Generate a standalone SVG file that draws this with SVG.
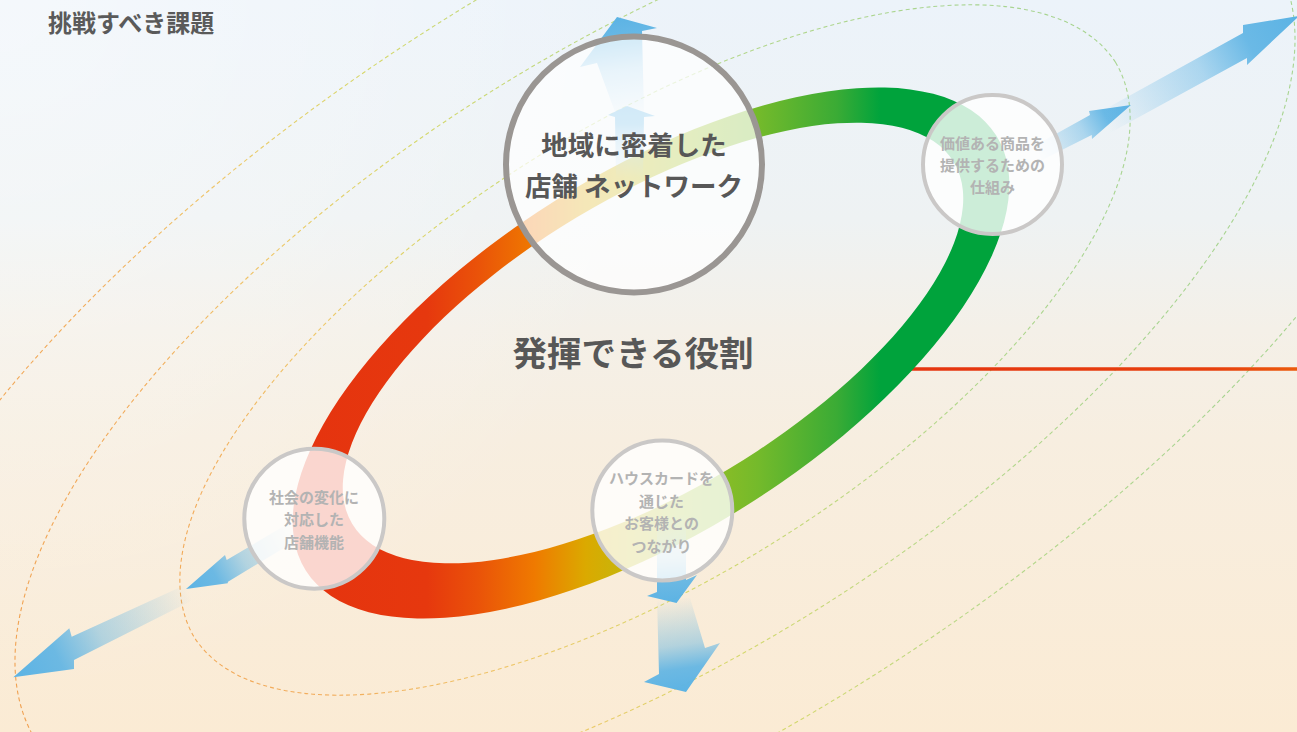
<svg xmlns="http://www.w3.org/2000/svg" width="1297" height="732" viewBox="0 0 1297 732">
<style>
.dl{fill:none;stroke:url(#dash);stroke-width:1.1;stroke-dasharray:4 3}
.cs{fill:#fff;fill-opacity:.8;stroke:#cac8c7;stroke-width:4}
.cb{fill:#fff;fill-opacity:.72;stroke:#9a9693;stroke-width:6}
.t{font-family:"Noto Sans CJK JP","Noto Sans CJK SC",sans-serif;font-weight:700;text-anchor:middle}
.ts{font-size:15px;fill:#b3b3b3}
.tm{fill:#575757}
</style>
<defs>
<linearGradient id="bg" x1="0" y1="0" x2="0" y2="1">
<stop offset="0" stop-color="#ecf3fa"/>
<stop offset="0.3" stop-color="#eef2f3"/>
<stop offset="0.45" stop-color="#f4f0e8"/>
<stop offset="0.6" stop-color="#f7eee0"/>
<stop offset="1" stop-color="#fbebd4"/>
</linearGradient>
<radialGradient id="bgl" cx="0" cy="0" r="700" gradientUnits="userSpaceOnUse">
<stop offset="0" stop-color="#fff" stop-opacity="0.45"/>
<stop offset="1" stop-color="#fff" stop-opacity="0"/>
</radialGradient>
<linearGradient id="dash" gradientUnits="userSpaceOnUse" x1="0" y1="700" x2="1000" y2="100">
<stop offset="0" stop-color="#f0a050"/>
<stop offset="0.25" stop-color="#f2ad5c"/>
<stop offset="0.4" stop-color="#eec86a"/>
<stop offset="0.55" stop-color="#d6d86a"/>
<stop offset="0.75" stop-color="#b8d888"/>
<stop offset="1" stop-color="#a8d490"/>
</linearGradient>
<linearGradient id="ring" gradientUnits="userSpaceOnUse" x1="290" y1="0" x2="1010" y2="0">
<stop offset="0" stop-color="#e5330f"/>
<stop offset="0.19" stop-color="#e6380e"/>
<stop offset="0.26" stop-color="#ea5209"/>
<stop offset="0.34" stop-color="#ef7a00"/>
<stop offset="0.41" stop-color="#dba900"/>
<stop offset="0.47" stop-color="#c4b70c"/>
<stop offset="0.55" stop-color="#9cbf22"/>
<stop offset="0.65" stop-color="#74ba2b"/>
<stop offset="0.76" stop-color="#3aab35"/>
<stop offset="0.82" stop-color="#00a33c"/>
<stop offset="1" stop-color="#00a33c"/>
</linearGradient>
<linearGradient id="redline" gradientUnits="userSpaceOnUse" x1="880" y1="0" x2="1297" y2="0">
<stop offset="0" stop-color="#e5330f"/>
<stop offset="0.8" stop-color="#e7400d"/>
<stop offset="1" stop-color="#eb5a0b"/>
</linearGradient>
<mask id="ringMask" maskUnits="userSpaceOnUse" x="0" y="0" width="1297" height="732">
<ellipse cx="651" cy="353" rx="408" ry="180" transform="rotate(-32.2 651 353)" fill="#fff"/>
<ellipse cx="653" cy="343" rx="351" ry="147" transform="rotate(-31 653 343)" fill="#000"/>
</mask>
<linearGradient id="ab" gradientUnits="userSpaceOnUse">
<stop offset="0" stop-color="#5cb3e4" stop-opacity="0"/>
<stop offset="0.5" stop-color="#5cb3e4" stop-opacity="0.45"/>
<stop offset="0.75" stop-color="#5cb3e4" stop-opacity="0.9"/>
<stop offset="1" stop-color="#5cb3e4" stop-opacity="1"/>
</linearGradient>
<linearGradient id="g1s" href="#ab" gradientUnits="userSpaceOnUse" x1="629" y1="178" x2="627" y2="106"/>
<linearGradient id="g1b" href="#ab" gradientUnits="userSpaceOnUse" x1="630" y1="122" x2="616" y2="17"/>
<linearGradient id="g2s" href="#ab" gradientUnits="userSpaceOnUse" x1="1035" y1="158" x2="1131" y2="105"/>
<linearGradient id="g2b" href="#ab" gradientUnits="userSpaceOnUse" x1="1104" y1="123" x2="1297" y2="17"/>
<linearGradient id="g3s" href="#ab" gradientUnits="userSpaceOnUse" x1="300" y1="528" x2="186" y2="589"/>
<linearGradient id="g3b" href="#ab" gradientUnits="userSpaceOnUse" x1="189" y1="592" x2="13" y2="677"/>
<linearGradient id="g4s" href="#ab" gradientUnits="userSpaceOnUse" x1="671" y1="515" x2="676" y2="603"/>
<linearGradient id="g4b" href="#ab" gradientUnits="userSpaceOnUse" x1="673" y1="598" x2="686" y2="692"/>
</defs>

<g id="background">
<rect x="0" y="0" width="1297" height="732" fill="url(#bg)"/>
<rect x="0" y="0" width="1297" height="732" fill="url(#bgl)"/>
</g>

<g id="orbits">
<path class="dl" d="M1115.5 62.3 A543 228 -32 0 1 194.5 637.7 A543 228 -32 0 1 1115.5 62.3 Z"/>
<path class="dl" d="M1275.7 -37.9 A732 310 -32 0 1 34.3 737.9 A732 310 -32 0 1 1275.7 -37.9 Z"/>
<path class="dl" d="M1442.8 -142.3 A929 395 -32 0 1 -132.8 842.3 A929 395 -32 0 1 1442.8 -142.3 Z"/>
</g>

<g id="link-line">
<line x1="880" y1="369" x2="1297" y2="369" stroke="url(#redline)" stroke-width="3.6"/>
</g>

<g id="ring">
<rect x="0" y="0" width="1297" height="732" fill="url(#ring)" mask="url(#ringMask)"/>
</g>

<g id="connectors">
<polygon fill="url(#g1s)" points="616,178 615,117 608,115 627,106 655,116 644,117 643,178"/>
<polygon fill="url(#g1b)" points="615,112 597,63 580,67 617,17 657,28 642,31 644,112"/>
<polygon fill="url(#g2s)" points="1036,145 1090,115 1089,111 1131,105 1092,139 1091.7,135 1042,160"/>
<polygon fill="url(#g2b)" points="1100,112 1243,33 1243,25 1299,16 1247,65 1247,58 1108,134"/>
<polygon fill="url(#g3s)" points="296,519 226.7,560 225,555 186,589 227.7,583.3 228,581.7 302,537"/>
<polygon fill="url(#g3b)" points="185,585 71.7,636.7 69.3,628.3 13.3,677.3 74,669 74,660 193,600"/>
<polygon fill="url(#g4s)" points="657,515 657,592 647,596 676.5,603 697,575 686,580 686,515"/>
<polygon fill="url(#g4b)" points="657,598 659,674 644,682 686,692 720,643 705,648 690,598"/>
</g>

<g id="node-network">
<circle class="cb" cx="634" cy="164.5" r="128"/>
<text class="t tm" x="634" y="155" font-size="26.5">地域に密着した</text>
<text class="t tm" x="634" y="196" font-size="26.5">店舗 ネットワーク</text>
</g>

<g id="node-value">
<circle class="cs" cx="992.5" cy="164.5" r="69.5"/>
<text class="t ts" x="992.5" y="149">価値ある商品を</text>
<text class="t ts" x="992.5" y="171">提供するための</text>
<text class="t ts" x="992.5" y="193">仕組み</text>
</g>

<g id="node-society">
<circle class="cs" cx="314.3" cy="518.7" r="70"/>
<text class="t ts" x="314" y="503">社会の変化に</text>
<text class="t ts" x="314" y="525">対応した</text>
<text class="t ts" x="314" y="547.5">店舗機能</text>
</g>

<g id="node-card">
<circle class="cs" cx="662.3" cy="510.5" r="70"/>
<text class="t ts" x="661.5" y="484">ハウスカードを</text>
<text class="t ts" x="661.5" y="506.5">通じた</text>
<text class="t ts" x="661.5" y="529">お客様との</text>
<text class="t ts" x="661.5" y="551.5">つながり</text>
</g>

<g id="center-label">
<text class="t tm" x="633" y="366" font-size="34.5">発揮できる役割</text>
</g>

<g id="title">
<text class="t" x="48" y="31.5" font-size="24" fill="#5a5a5a" style="text-anchor:start">挑戦すべき課題</text>
</g>
</svg>
